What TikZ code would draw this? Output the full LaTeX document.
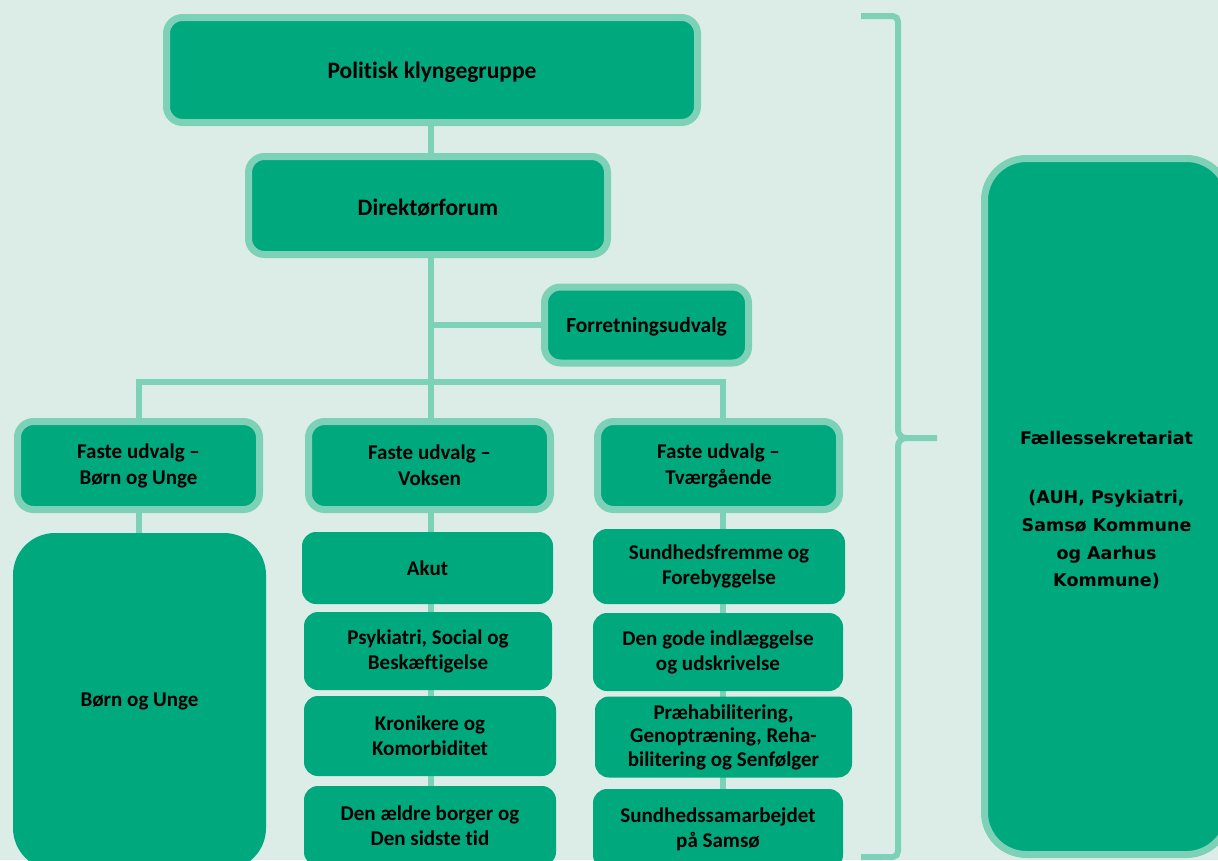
\documentclass[tikz,border=0pt]{standalone}
\usepackage{fontspec}
\setmainfont{Carlito}[Ligatures={NoCommon}]
\newfontfamily\verd{DejaVu Sans}
\usetikzlibrary{backgrounds}
\definecolor{bg}{RGB}{220,237,232}
\definecolor{boxfill}{RGB}{0,168,126}
\definecolor{rim}{RGB}{125,209,183}
\tikzset{
  rimbox/.style={draw=rim, line width=7pt, fill=boxfill, rounded corners=16pt, inner sep=0pt, align=center, font=\bfseries\fontsize{21}{26}\selectfont},
  cttee/.style={rimbox, minimum width=242pt, minimum height=88pt},
  subbox/.style={fill=boxfill, rounded corners=14pt, inner sep=0pt, align=center, font=\bfseries\fontsize{21}{25}\selectfont},
  link/.style={draw=rim, line width=6pt},
  bracepath/.style={draw=rim, line width=6pt},
}
\begin{document}
\begin{tikzpicture}[x=1pt,y=-1pt]
\clip (0,0) rectangle (1218,860);
% top levels
\node[rimbox, minimum width=531pt, minimum height=105pt, text height=22.5pt, text depth=5pt, font=\bfseries\fontsize{23.5}{26}\selectfont] (pol) at (432,70) {Politisk klyngegruppe};
\node[rimbox, minimum width=359pt, minimum height=98pt, text height=20.5pt, text depth=0.5pt, font=\bfseries\fontsize{23.5}{26}\selectfont] (dir) at (428,205.5) {Direktørforum};
\node[rimbox, minimum width=204pt, minimum height=76pt, text height=19pt, text depth=4.3pt, font=\bfseries\fontsize{21.5}{26}\selectfont] (forr) at (646.5,325) {Forretningsudvalg};
% committees
\node[cttee] (fb) at (138.5,465.5) {Faste udvalg –\\Børn og Unge};
\node[cttee] (fv) at (429.5,465.5) {Faste udvalg –\\Voksen};
\node[cttee] (ft) at (718.5,465.5) {Faste udvalg –\\Tværgående};
% children column
\node[subbox, rounded corners=42pt, minimum width=253pt, minimum height=337pt] (bu) at (139.5,701.5) {Børn og Unge};
% adult column
\node[subbox, minimum width=251pt, minimum height=72pt] (akut) at (427.5,568) {Akut};
\node[subbox, minimum width=248pt, minimum height=78pt] (psyk) at (428,651) {Psykiatri, Social og\\Beskæftigelse};
\node[subbox, minimum width=252pt, minimum height=80pt] (kron) at (430,736) {Kronikere og\\Komorbiditet};
\node[subbox, minimum width=252pt, minimum height=80pt] (aeld) at (430,826) {Den ældre borger og\\Den sidste tid};
% cross column
\node[subbox, minimum width=252pt, minimum height=75pt] (sf) at (719,566.5) {Sundhedsfremme og\\Forebyggelse};
\node[subbox, minimum width=250pt, minimum height=78pt] (gode) at (718,652) {Den gode indlæggelse\\og udskrivelse};
\node[subbox, minimum width=257pt, minimum height=81pt, font=\bfseries\fontsize{21}{23.5}\selectfont] (praeh) at (723.5,737) {Præhabilitering,\\Genoptræning, Reha-\\bilitering og Senfølger};
\node[subbox, minimum width=250pt, minimum height=80pt] (sams) at (718,829) {Sundhedssamarbejdet\\på Samsø};
% secretariat
\node[rimbox, rounded corners=42pt, minimum width=244pt, minimum height=696pt] (fsek) at (1106.5,506.5) {};
\node[font=\verd\bfseries\fontsize{17.5}{27.7}\selectfont, align=center, inner sep=0pt] (fsekt) at (1106.5,510) {Fællessekretariat\\[32pt](AUH, Psykiatri,\\Samsø Kommune\\og Aarhus\\Kommune)};
% helper coordinates
\coordinate (sx) at (431,0);
\coordinate (tx) at (723,0);
\coordinate (bar) at (0,381.5);
% brace
\coordinate (brTop) at (861,16);
\coordinate (brTip) at (937,438);
\coordinate (brBot) at (861,857);
\draw[bracepath] (brTop) -- (893,16) to[out=0,in=90] (898,22) -- (898,430)
   to[out=-90,in=180] (906,438) -- (brTip);
\draw[bracepath] (906,438) to[out=180,in=90] (898,446) -- (898,851)
   to[out=-90,in=0] (893,857) -- (brBot);
% connectors behind
\begin{scope}[on background layer]
\fill[bg] (0,0) rectangle (1218,860);
\draw[link] (sx |- pol) -- (sx |- dir);
\draw[link] (sx |- dir) -- (sx |- fv);
\draw[link] (sx |- forr) -- (forr);
\draw[link] (fb) -- (fb |- bar) -- (tx |- bar) -- (tx |- ft);
\draw[link] (fb) -- (fb |- bu);
\draw[link] (sx |- fv) -- (sx |- aeld);
\draw[link] (tx |- ft) -- (tx |- sams);
\end{scope}
\end{tikzpicture}
\end{document}
